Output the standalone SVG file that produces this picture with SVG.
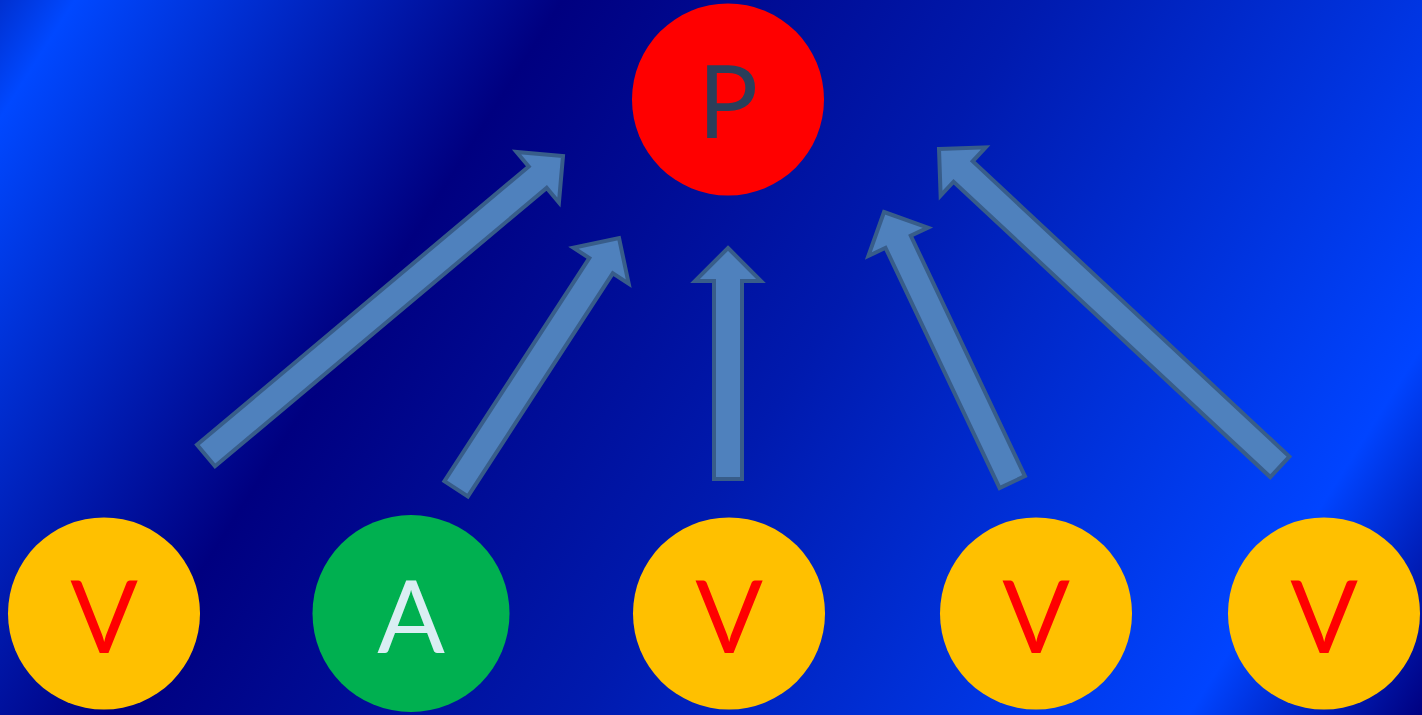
<svg xmlns="http://www.w3.org/2000/svg" width="1422" height="715" viewBox="0 0 1422 715">
<defs>
<linearGradient id="bg" gradientUnits="userSpaceOnUse" x1="0" y1="0" x2="1339" y2="848">
<stop offset="0" stop-color="#0030d0"/>
<stop offset="0.04" stop-color="#0048ff"/>
<stop offset="0.3" stop-color="#000080"/>
<stop offset="0.55" stop-color="#001aae"/>
<stop offset="0.875" stop-color="#0044ff"/>
<stop offset="1" stop-color="#000080"/>
</linearGradient>
<style>
.arrow{fill:#4f81bd;stroke:#385d8a;stroke-width:4;stroke-linejoin:miter}
.lbl{font-family:Lato,"Open Sans","Liberation Sans",sans-serif;font-size:100px;text-anchor:middle}
.v{fill:#ffc000}
.vt{fill:#ff0000}
</style>
</defs>
<rect width="1422" height="715" fill="url(#bg)"/>
<g id="connectors">
<path class="arrow" transform="translate(563,156) rotate(50)" d="M0,0 L33,33 L14,33 L14,466 L-14,466 L-14,33 L-33,33 Z"/>
<path class="arrow" transform="translate(619,238) rotate(33)" d="M0,0 L33,33 L14,33 L14,299 L-14,299 L-14,33 L-33,33 Z"/>
<path class="arrow" transform="translate(728,248) rotate(0)" d="M0,0 L33,33 L14,33 L14,231 L-14,231 L-14,33 L-33,33 Z"/>
<path class="arrow" transform="translate(884,212) rotate(-25.4)" d="M0,0 L33,33 L14,33 L14,299 L-14,299 L-14,33 L-33,33 Z"/>
<path class="arrow" transform="translate(939,149) rotate(-47)" d="M0,0 L33,33 L14,33 L14,466 L-14,466 L-14,33 L-33,33 Z"/>
</g>
<g id="node-P">
<circle cx="728" cy="99.5" r="96" fill="#ff0000"/>
<text class="lbl" x="728" y="138" fill="#2b3e5a">P</text>
</g>
<g id="node-V1">
<circle class="v" cx="104" cy="613.5" r="96"/>
<text class="lbl vt" x="104" y="653">V</text>
</g>
<g id="node-A">
<circle cx="411" cy="613.5" r="98.5" fill="#00b050"/>
<text class="lbl" x="411" y="653" fill="#daeef3">A</text>
</g>
<g id="node-V2">
<circle class="v" cx="729" cy="613.5" r="96"/>
<text class="lbl vt" x="729" y="653">V</text>
</g>
<g id="node-V3">
<circle class="v" cx="1036" cy="613.5" r="96"/>
<text class="lbl vt" x="1036" y="653">V</text>
</g>
<g id="node-V4">
<circle class="v" cx="1324" cy="613.5" r="96"/>
<text class="lbl vt" x="1324" y="653">V</text>
</g>
</svg>
